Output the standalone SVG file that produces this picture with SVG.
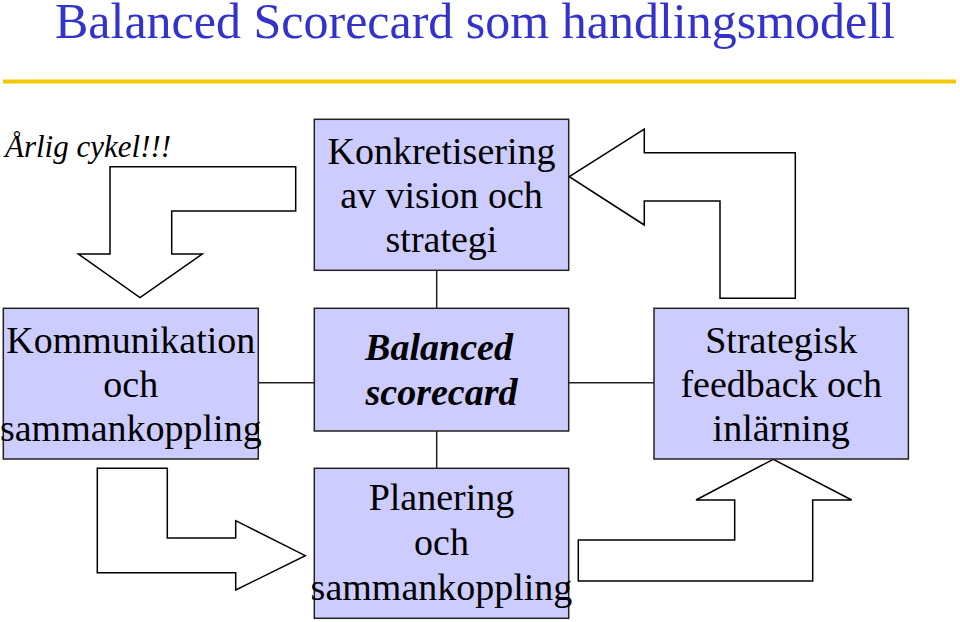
<svg xmlns="http://www.w3.org/2000/svg" width="960" height="622" viewBox="0 0 960 622">
<style>
.box{fill:#ccccff;stroke:#222;stroke-width:1.5}
.arr{fill:#fff;stroke:#000;stroke-width:1.5;stroke-linejoin:miter}
.conn{stroke:#222;stroke-width:1.5;fill:none}
.t{font-family:"Liberation Serif","Times New Roman",serif;font-size:38px;fill:#000;text-anchor:middle}
.bi{font-weight:bold;font-style:italic}
</style>
<rect width="960" height="622" fill="#fff"/>
<text x="475" y="38" font-family="'Liberation Serif','Times New Roman',serif" font-size="50" fill="#3333cc" text-anchor="middle">Balanced Scorecard som handlingsmodell</text>
<line x1="3" y1="81.5" x2="956" y2="81.5" stroke="#f2c800" stroke-width="4"/>
<text x="5" y="157" font-family="'Liberation Serif','Times New Roman',serif" font-size="31" font-style="italic" fill="#000">Årlig cykel!!!</text>
<g id="connectors">
<line class="conn" x1="436.7" y1="270" x2="436.7" y2="308"/>
<line class="conn" x1="436.7" y1="431" x2="436.7" y2="468"/>
<line class="conn" x1="258" y1="382.7" x2="314" y2="382.7"/>
<line class="conn" x1="569" y1="382.7" x2="654" y2="382.7"/>
<polygon id="arrow-top-left" class="arr" points="110,166.7 295.7,166.7 295.7,211 171.7,211 171.7,254 202.3,254 140,297.7 78.3,254 110,254"/>
<polygon id="arrow-top-right" class="arr" points="569.3,176.7 644.3,129 644.3,152.7 795.3,152.7 795.3,298.3 720,298.3 720,201 644.3,201 644.3,225"/>
<polygon id="arrow-bottom-left" class="arr" points="97.3,468.3 167.3,468.3 167.3,538 235.7,538 235.7,520.7 305.3,555.7 235.7,590 235.7,572.7 97.3,572.7"/>
<polygon id="arrow-bottom-right" class="arr" points="578.3,540 734.7,540 734.7,500 696,500 773.3,459.3 851.7,500 812.7,500 812.7,581 578.3,581"/>
</g>
<g id="node-konkretisering">
<rect class="box" x="314.3" y="119.3" width="254.4" height="151"/>
<text class="t" x="441.5" y="164">Konkretisering</text>
<text class="t" x="441.5" y="208">av vision och</text>
<text class="t" x="441.5" y="252">strategi</text>
</g>
<g id="node-bsc">
<rect class="box" x="314.3" y="308.3" width="254.4" height="122.7"/>
<text class="t bi" x="439" y="360">Balanced</text>
<text class="t bi" x="441.5" y="405">scorecard</text>
</g>
<g id="node-planering">
<rect class="box" x="314.3" y="468.3" width="254.4" height="150"/>
<text class="t" x="441.5" y="510">Planering</text>
<text class="t" x="441.5" y="555">och</text>
<text class="t" x="441.5" y="600">sammankoppling</text>
</g>
<g id="node-kommunikation">
<rect class="box" x="3.3" y="308.3" width="255" height="150.7"/>
<text class="t" x="130.8" y="353">Kommunikation</text>
<text class="t" x="130.8" y="397">och</text>
<text class="t" x="130.8" y="441">sammankoppling</text>
</g>
<g id="node-feedback">
<rect class="box" x="654" y="308.3" width="254.4" height="150.7"/>
<text class="t" x="781.2" y="353">Strategisk</text>
<text class="t" x="781.2" y="397">feedback och</text>
<text class="t" x="781.2" y="441">inlärning</text>
</g>
</svg>
